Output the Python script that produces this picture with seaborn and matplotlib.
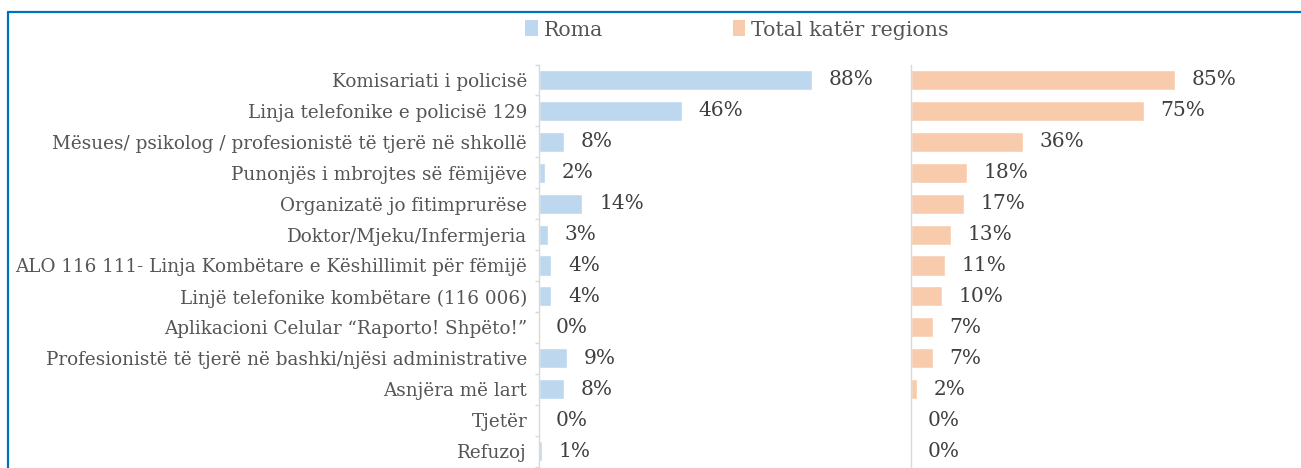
import matplotlib
matplotlib.use("Agg")
import matplotlib.pyplot as plt
import seaborn as sns
import pandas as pd
from matplotlib.lines import Line2D
from matplotlib.patches import Patch
from matplotlib.ticker import FixedLocator

categories = [
    "Komisariati i policisë",
    "Linja telefonike e policisë 129",
    "Mësues/ psikolog / profesionistë të tjerë në shkollë",
    "Punonjës i mbrojtes së fëmijëve",
    "Organizatë jo fitimprurëse",
    "Doktor/Mjeku/Infermjeria",
    "ALO 116 111- Linja Kombëtare e Këshillimit për fëmijë",
    "Linjë telefonike kombëtare (116 006)",
    "Aplikacioni Celular “Raporto! Shpëto!”",
    "Profesionistë të tjerë në bashki/njësi administrative",
    "Asnjëra më lart",
    "Tjetër",
    "Refuzoj",
]
roma = [88, 46, 8, 2, 14, 3, 4, 4, 0, 9, 8, 0, 1]
total = [85, 75, 36, 18, 17, 13, 11, 10, 7, 7, 2, 0, 0]
series_names = ["Roma", "Total katër regions"]

BLUE = "#BDD7EE"
ORANGE = "#F8CBAD"
TXT = "#404040"
LBL = "#555555"
AX = "#D9D9D9"

sns.set_theme(style="white")
plt.rcParams["font.family"] = ["DejaVu Serif", "DejaVu Sans"]

df = pd.DataFrame({"cat": categories, "roma": roma, "total": total})

W, H = 1301, 468
fig = plt.figure(figsize=(W / 100, H / 100), dpi=100)

ax_w = 310 / W
ax_b = 1.5 / H
ax_h = (466.5 - 64.5) / H
ax1 = fig.add_axes([539 / W, ax_b, ax_w, ax_h])
ax2 = fig.add_axes([911 / W, ax_b, ax_w, ax_h])

for ax, col, color in [(ax1, "roma", BLUE), (ax2, "total", ORANGE)]:
    sns.barplot(data=df, y="cat", x=col, ax=ax, color=color, saturation=1,
                width=0.65, orient="h")
    ax.set_xlim(0, 100)
    ax.set_ylim(len(categories) - 0.5, -0.5)
    ax.set_xlabel("")
    ax.set_ylabel("")
    ax.set_xticks([])
    for s in ["top", "right", "bottom"]:
        ax.spines[s].set_visible(False)
    ax.spines["left"].set_color(AX)
    ax.spines["left"].set_linewidth(1.0)
    for i, v in enumerate(df[col]):
        ax.annotate(f"{v}%", xy=(v, i), xytext=(12, 0), textcoords="offset points",
                    ha="left", va="center", fontsize=14.5, color=TXT,
                    annotation_clip=False)
    ax.set_facecolor("none")

ax1.tick_params(axis="y", which="major", length=0, pad=8.5, labelsize=13.2,
                labelcolor=LBL)
ax1.yaxis.set_minor_locator(FixedLocator([k - 0.5 for k in range(len(categories) + 1)]))
ax1.tick_params(axis="y", which="minor", length=3, width=1, color=AX, left=True)
ax2.set_yticks([])
ax2.tick_params(axis="y", which="both", length=0, labelleft=False)

handles = [Patch(facecolor=BLUE, edgecolor="none"), Patch(facecolor=ORANGE, edgecolor="none")]
fig.legend(handles, series_names, loc="center", bbox_to_anchor=(737 / W, 1 - 30 / H),
           ncol=2, frameon=False, fontsize=14.8, handlelength=0.6, handleheight=0.8,
           handletextpad=0.3, columnspacing=6.3, labelcolor=LBL)

# blue frame lines
fig.add_artist(Line2D([7.5 / W, 1], [1 - 11.5 / H, 1 - 11.5 / H], transform=fig.transFigure,
                      color="#0070C0", linewidth=1.6))
fig.add_artist(Line2D([7.5 / W, 7.5 / W], [0, 1 - 11.5 / H], transform=fig.transFigure,
                      color="#0070C0", linewidth=1.6))

fig.savefig("out.png", dpi=100)
